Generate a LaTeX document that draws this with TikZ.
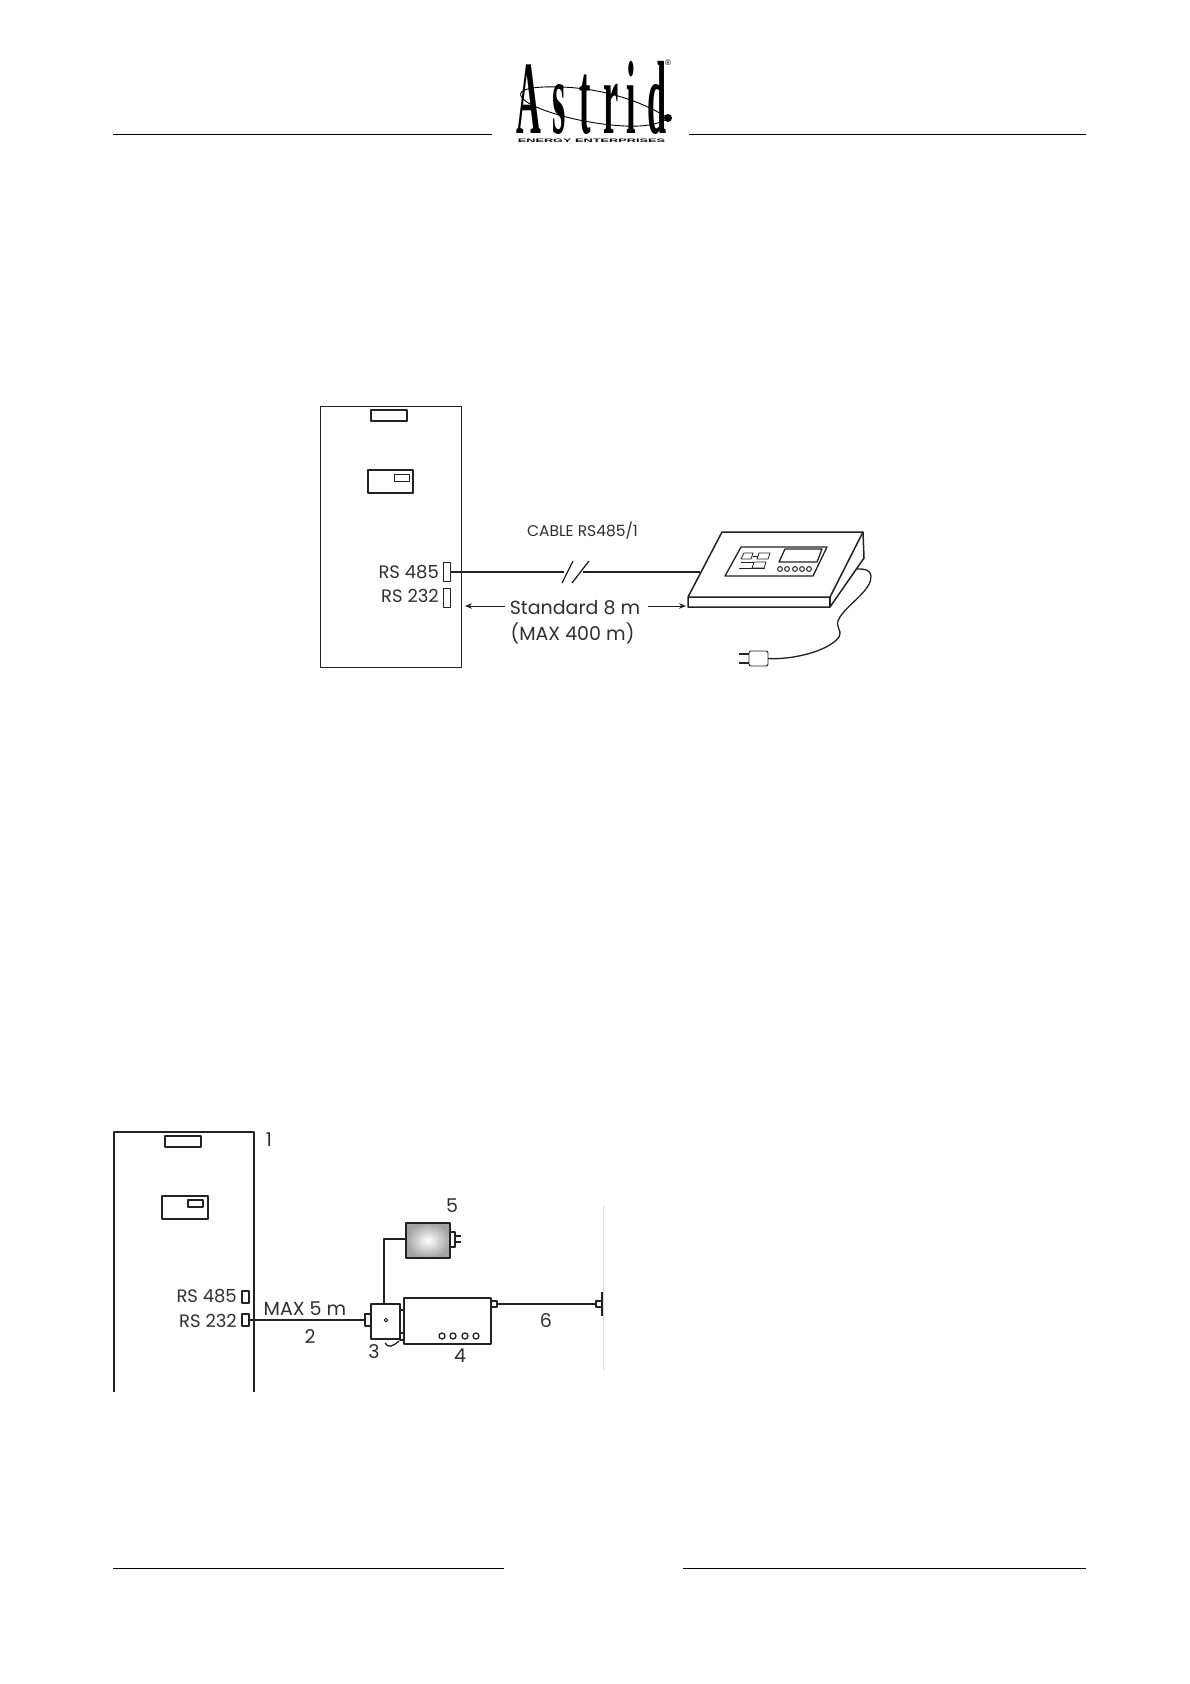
\documentclass[tikz,border=0pt]{standalone}
\usepackage{fontspec}
\setmainfont{Poppins}
\newfontfamily\logofont{Liberation Serif}
\newfontfamily\tagfont{Liberation Sans}
\usepackage{xcolor}
\usetikzlibrary{arrows.meta,calc}
\definecolor{inkGrey}{HTML}{222222}
\definecolor{textGrey}{HTML}{303030}
\definecolor{wallGrey}{HTML}{D8D8D8}
\newcommand{\narrowch}[1]{\scalebox{0.33}[1]{#1}}

\begin{document}
\begin{tikzpicture}[
  x=1pt,
  y=-1pt,
  line join=round,
  box/.style={
    rectangle,
    draw=inkGrey,
    fill=white,
    line width=1.3pt,
    inner sep=0pt,
    outer sep=0pt
  },
  thinbox/.style={box,line width=0.9pt},
  label/.style={font=\fontsize{19}{22}\selectfont,text=textGrey,inner sep=0pt,align=center},
  portlabel/.style={label,font=\fontsize{18}{21}\selectfont,anchor=east},
  cablelabel/.style={font=\fontsize{15.5}{18}\selectfont,text=textGrey,inner sep=0pt},
  logoletter/.style={font=\logofont\bfseries\fontsize{104}{104}\selectfont,anchor=base,inner sep=0pt},
  rulerline/.style={draw=black,line width=1pt},
  wire/.style={draw=inkGrey,line width=1.3pt},
  arrow/.style={-{Stealth[length=7pt,width=5.5pt]},draw=inkGrey,line width=1pt}
]
\useasboundingbox (0,0) rectangle (1190,1684);
\fill[white] (0,0) rectangle (1190,1684);

% Header and footer rules.
\coordinate (headLa) at (113,134);
\coordinate (headLb) at (492,134);
\coordinate (headRa) at (689,134);
\coordinate (headRb) at (1086,134);
\coordinate (footLa) at (113,1568);
\coordinate (footLb) at (504,1568);
\coordinate (footRa) at (683,1568);
\coordinate (footRb) at (1086,1568);
\draw[rulerline] (headLa) -- (headLb);
\draw[rulerline] (headRa) -- (headRb);
\draw[rulerline] (footLa) -- (footLb);
\draw[rulerline] (footRa) -- (footRb);

% Logo.
\foreach \ch/\xx in {A/529,s/559,t/585,r/611,i/631,d/657} {
  \node[logoletter] (logo\ch) at (\xx,133) {\narrowch{\ch}};
}
\draw[black,line width=0.9pt] (668,118) .. controls (640,100) and (600,88) .. (560,87)
  .. controls (530,86) and (518,90) .. (521,96)
  .. controls (526,108) and (580,124) .. (625,126)
  .. controls (645,127) and (660,124) .. (668,118);
\fill[black] (668,118) circle[radius=4];
\node[inner sep=0pt,font=\tagfont\fontsize{8}{8}\selectfont] (logoreg) at (668,63) {®};
\node[inner sep=0pt,font=\tagfont\bfseries\fontsize{5}{5}\selectfont] (logotag) at (591.5,140.5)
  {\scalebox{2.55}[1]{ENERGY ENTERPRISES}};

% First cabinet.
\node[thinbox,minimum width=141pt,minimum height=261pt] (cabinetA) at (390.5,536.5) {};
\node[box,minimum width=36pt,minimum height=11pt] (slotA) at (389,415.5) {};
\node[box,minimum width=45pt,minimum height=23pt] (panelA) at (390.5,481.5) {};
\node[thinbox,minimum width=15pt,minimum height=7pt] (screenA) at (401.5,477.5) {};
\node[thinbox,minimum width=7pt,minimum height=19pt] (portAa) at (446.5,572) {};
\node[thinbox,minimum width=7pt,minimum height=19pt] (portAb) at (446.5,597.5) {};
\node[portlabel] (rsAa) at (439,572) {RS 485};
\node[portlabel] (rsAb) at (439,596) {RS 232};

% Cable to the desk unit.
\coordinate (breakAa) at (564,572);
\coordinate (breakAb) at (583,572);
\coordinate (deskIn) at (700,572);
\draw[wire] (portAa.east) -- (breakAa);
\draw[wire] (breakAb) -- (deskIn);
\draw[wire] (562,583) -- (573,561);
\draw[wire] (572,583) -- (589,561);
\node[cablelabel] (cablelabel) at (582.5,531) {CABLE RS485/1};
\node[label] (stdlabel) at (575,608) {Standard 8 m};
\node[label] (maxlabel) at (572.5,633) {(MAX 400 m)};
\coordinate (distL) at (465,606);
\coordinate (distR) at (686,606);
\draw[arrow] (stdlabel.west |- distL) ++(-5,0) -- (distL);
\draw[arrow] (stdlabel.east |- distR) ++(8,0) -- (distR);

% Cord and plug.
\node[thinbox,rounded corners=2pt,minimum width=19pt,minimum height=15pt] (plug) at (758.5,658.5) {};
\coordinate (cordEnd) at (857,569);
\draw[wire] (plug.east) .. controls (790,660) and (828,652) .. (839,637)
  .. controls (843,628) and (833,628) .. (840,617)
  .. controls (848,604) and (872,590) .. (871,576)
  .. controls (870,569) and (864,569) .. (cordEnd);
\coordinate (prongTop) at (739,654);
\coordinate (prongBot) at (739,663);
\draw[wire,line width=2pt] (prongTop) -- (prongTop -| plug.west);
\draw[wire,line width=2pt] (prongBot) -- (prongBot -| plug.west);

% Desk unit.
\draw[wire,fill=white,line width=1.5pt] (722,532) -- (863,532) -- (864,558) -- (830,607)
  -- (688,607) -- (688,597) -- cycle;
\draw[wire,line width=1.5pt] (688,597) -- (830,597) -- (863,532);
\draw[wire] (830,597) -- (830,607);
\draw[wire] (741,547) -- (827,547) -- (813,576) -- (725,576) -- cycle;
\draw[wire] (785,549) -- (822,549) -- (817,562) -- (779,562) -- cycle;
\foreach \bx in {780,787,795,802,809} {
  \draw[wire,line width=1pt] (\bx,569) circle[radius=2.4];
}
\draw[wire,line width=0.8pt] (744,553) -- (753,553) -- (751,559) -- (741,559) -- cycle;
\draw[wire,line width=0.8pt] (759,553) -- (770,553) -- (768,559) -- (757,559) -- cycle;
\draw[wire,line width=0.8pt] (753,556) -- (758,556);
\draw[wire,line width=0.8pt] (754,562) -- (766,562) -- (764,568) -- (752,568) -- cycle;
\draw[wire,line width=0.8pt] (741,562) -- (754,562);
\draw[wire,line width=0.8pt] (739,568) -- (765,568);

% Second cabinet, open at the bottom.
\coordinate (cabBa) at (114,1392);
\coordinate (cabBb) at (114,1132);
\coordinate (cabBc) at (254,1132);
\coordinate (cabBd) at (254,1392);
\draw[wire] (cabBa) -- (cabBb) -- (cabBc) -- (cabBd);
\node[box,minimum width=36pt,minimum height=11pt] (slotB) at (183,1141.5) {};
\node[box,minimum width=46pt,minimum height=23pt] (panelB) at (185,1207.5) {};
\node[box,minimum width=15pt,minimum height=7pt] (screenB) at (195.5,1203.5) {};
\node[box,minimum width=7pt,minimum height=12pt] (portBa) at (245.5,1297) {};
\node[box,minimum width=7pt,minimum height=12pt] (portBb) at (245.5,1320) {};
\node[portlabel] (rsBa) at (237,1296) {RS 485};
\node[portlabel] (rsBb) at (237,1321) {RS 232};
\node[label] (numA) at (269,1140) {1};
\node[label] (maxB) at (305,1309) {MAX 5 m};
\node[label] (numB) at (310,1336) {2};

% Adapter, modem and supply.
\node[box,minimum width=29pt,minimum height=35pt] (adapter) at (385.5,1321.5) {};
\node[box,minimum width=6pt,minimum height=12pt] (adapterIn) at (368,1320) {};
\fill[white,draw=inkGrey,line width=1pt] (386,1320) circle[radius=1.8];
\node[box,minimum width=87pt,minimum height=46pt] (modem) at (447.5,1321) {};
\node[box,minimum width=4pt,minimum height=23pt] (linkA) at (402,1321.5) {};
\node[box,minimum width=4pt,minimum height=7pt] (linkB) at (402,1336.5) {};
\foreach \cx in {442,453,465,476} {
  \draw[wire] (\cx,1336) circle[radius=3];
}
\node[box,minimum width=6pt,minimum height=6pt] (modemOut) at (494,1304) {};
\node[box,inner color=white,outer color=black!36,minimum width=44pt,minimum height=35pt] (supply) at (428,1240.5) {};
\node[box,minimum width=5pt,minimum height=15pt] (supplyPlug) at (452.5,1239.5) {};
\draw[wire,line width=2pt] (455,1236) -- (461,1236);
\draw[wire,line width=2pt] (455,1242) -- (461,1242);
\node[label] (numC) at (374,1352) {3};
\node[label] (numD) at (460,1356) {4};
\node[label] (numE) at (452,1206) {5};
\node[label] (numF) at (546,1320) {6};

% Wall socket.
\coordinate (wallTop) at (603,1206);
\coordinate (wallBot) at (603,1370);
\draw[wallGrey,line width=0.8pt] (wallTop) -- (wallBot);
\node[box,minimum width=6pt,minimum height=6pt] (socket) at (599,1304) {};
\coordinate (socketTop) at (602,1292);
\coordinate (socketBot) at (602,1316);
\draw[wire] (socketTop) -- (socketBot);

% Connections.
\draw[wire] (portBb.east) -- (adapterIn.west);
\draw[wire] (adapter.north -| 384,0) -- (384,1239) -- (supply.west |- 0,1239);
\draw[wire] (modemOut.east) -- (socket.west);
\draw[wire] (385,1343) .. controls (388,1348) and (392,1347) .. (399,1341);

\end{tikzpicture}
\end{document}
